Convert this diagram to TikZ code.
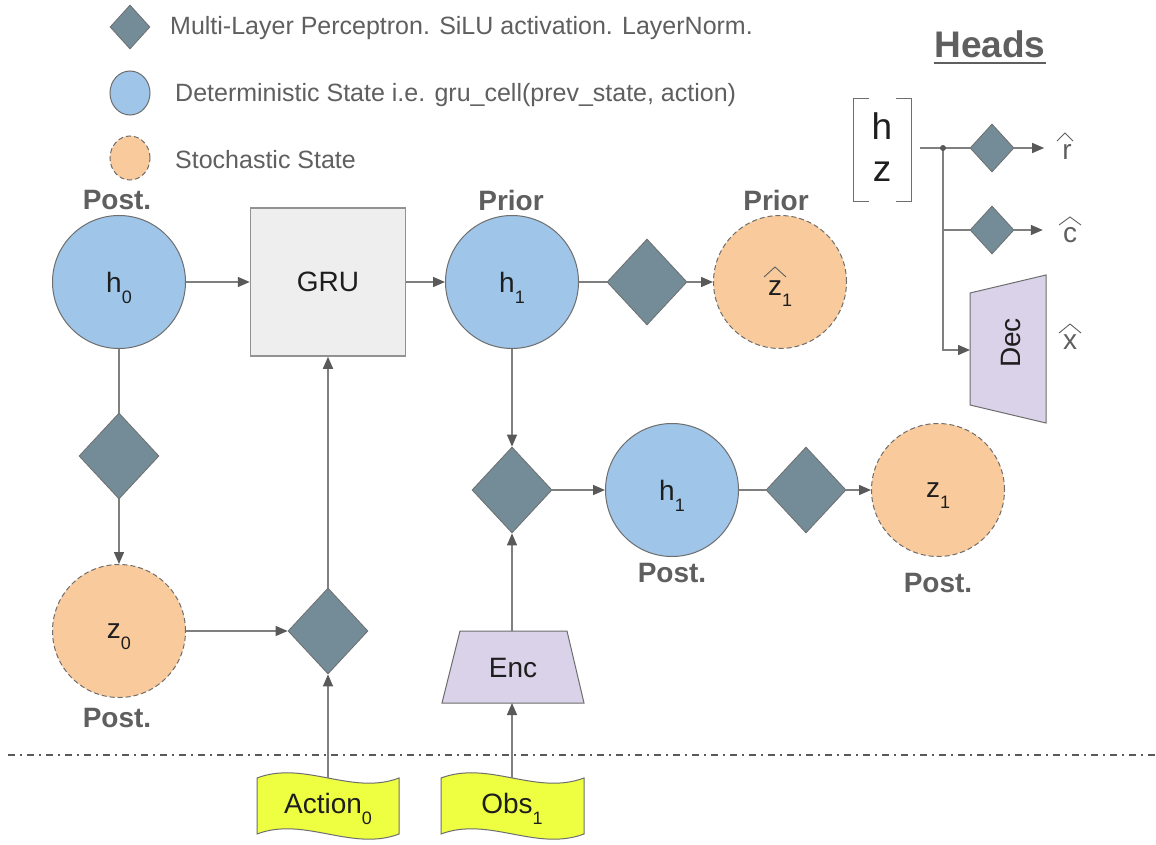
\documentclass[tikz,border=0pt]{standalone}
\usepackage{fontspec}
\setmainfont{Liberation Sans}
\usetikzlibrary{shapes.geometric,arrows.meta,calc}
\definecolor{bluefill}{HTML}{9FC5E8}
\definecolor{orangefill}{HTML}{F9CB9C}
\definecolor{mlpfill}{HTML}{738C98}
\definecolor{grufill}{HTML}{EEEEEE}
\definecolor{purplefill}{HTML}{D9D2E9}
\definecolor{flagfill}{HTML}{EEFF41}
\definecolor{bordergray}{HTML}{6E6E6E}
\definecolor{linegray}{HTML}{7F7F7F}
\definecolor{arrowgray}{HTML}{595959}
\definecolor{labelgray}{HTML}{5F5F5F}
\definecolor{textdark}{HTML}{1E1E1E}
\newcommand\fsz[1]{\fontsize{#1}{#1}\selectfont}
\newcommand\sbs[1]{\raisebox{-11pt}[0pt][0pt]{\fsz{18}#1}}
\begin{document}
\begin{tikzpicture}[x=1pt,y=-1pt,
  detstate/.style={circle,draw=bordergray,fill=bluefill,line width=1pt,minimum size=133pt,inner sep=0pt,font=\fsz{28},text=textdark},
  stostate/.style={detstate,fill=orangefill,dash pattern=on 5pt off 3pt},
  mlp/.style={diamond,draw=bordergray,fill=mlpfill,line width=0.8pt,minimum width=80pt,minimum height=86pt,inner sep=0pt},
  smallmlp/.style={mlp,minimum width=44pt,minimum height=48pt},
  lbl/.style={font=\bfseries\fsz{28},text=labelgray,inner sep=0pt},
  legtext/.style={anchor=west,font=\fsz{25},text=labelgray,inner sep=0pt},
  conn/.style={line width=1.5pt,draw=linegray},
  arr/.style={conn,-{Triangle[length=12pt,width=10pt,color=arrowgray]}},
  txt/.style={font=\fsz{28},text=textdark,inner sep=0pt},
  hatl/.style={font=\fsz{28},text=labelgray,inner xsep=18pt,inner ysep=0pt},
  caret/.style={line width=0.9pt,draw=labelgray,line join=miter},
  flagbox/.style={draw=bordergray,fill=flagfill,line width=1pt},
  trap/.style={draw=bordergray,fill=purplefill,line width=1pt},
]
\useasboundingbox[fill=white] (0,0) rectangle (1156,845);

% legend
\node[smallmlp,minimum width=40pt,minimum height=44pt] (lgm) at (130,27) {};
\node[legtext] (lgmt) at (170,28) {Multi-Layer Perceptron. SiLU activation. LayerNorm.};
\node[ellipse,draw=bordergray,fill=bluefill,line width=1pt,minimum width=40pt,minimum height=44pt,inner sep=0pt] (lgd) at (130,93) {};
\node[legtext] (lgdt) at (175,95) {Deterministic State i.e. gru\_cell(prev\_state, action)};
\node[ellipse,draw=bordergray,fill=orangefill,line width=1pt,dash pattern=on 5pt off 3pt,minimum width=40pt,minimum height=44pt,inner sep=0pt] (lgs) at (130,158) {};
\node[legtext] (lgst) at (175,160) {Stochastic State};

% main graph
\node[lbl] (lpost0) at (117,200) {Post.};
\node[detstate] (h0) at (119,282) {h\sbs{0}};
\node[draw=bordergray!75,fill=grufill,line width=1.5pt,minimum width=155pt,minimum height=148pt,inner sep=0pt,font=\fsz{28},text=textdark] (gru) at (328,282) {GRU};
\node[lbl] (lprior1) at (511,200) {Prior};
\node[detstate] (h1p) at (512,282) {h\sbs{1}};
\node[mlp] (mp) at (647,282) {};
\node[lbl] (lprior2) at (776,200) {Prior};
\node[stostate] (z1p) at (780,282) {\raisebox{-13pt}[0pt][0pt]{z\sbs{1}}};
\draw[caret] ($(z1p)+(-16,-5)$) -- ($(z1p)+(-5,-15)$) -- ($(z1p)+(6,-5)$);

\node[mlp] (m0) at (119,456) {};
\node[stostate] (z0) at (119,631) {z\sbs{0}};
\node[lbl] (lpost1) at (117,718) {Post.};
\node[mlp] (ma) at (328,631) {};

\node[mlp] (mq) at (512,490) {};
\node[detstate] (h1q) at (672,490) {h\sbs{1}};
\node[lbl] (lpost2) at (672,573) {Post.};
\node[mlp] (mz) at (806,490) {};
\node[stostate] (z1q) at (938,490) {z\sbs{1}};
\node[lbl] (lpost3) at (938,583) {Post.};

% encoder
\draw[trap] (460,631) -- (567,631) -- (584,703) -- (442,703) -- cycle;
\node[txt] (enc) at (513,668) {Enc};
\coordinate (encT) at (512,631);
\coordinate (encB) at (512,703);

% flags
\draw[flagbox] (257,778) .. controls (304,760) and (352,796) .. (399,778) -- (399,834) .. controls (352,852) and (304,816) .. (257,834) -- cycle;
\node[txt] (act) at (328,803) {Action\sbs{0}};
\coordinate (actT) at (328,778);
\draw[flagbox] (441,778) .. controls (489,760) and (536,796) .. (584,778) -- (584,834) .. controls (536,852) and (489,816) .. (441,834) -- cycle;
\node[txt] (obs) at (512,803) {Obs\sbs{1}};
\coordinate (obsT) at (512,778);

% dash-dot separator
\coordinate (dl) at (8,755);
\coordinate (dr) at (1156,755);
\draw[line width=1.2pt,arrowgray,dash pattern=on 7pt off 5pt on 2pt off 5pt] (dl) -- (dr);

% connectors
\draw[arr] (h0) -- (gru);
\draw[arr] (gru) -- (h1p);
\draw[conn] (h1p) -- (mp);
\draw[arr] (mp) -- (z1p);
\draw[conn] (h0) -- (m0);
\draw[arr] (m0) -- (z0);
\draw[arr] (z0) -- (ma);
\draw[arr] (ma) -- (gru);
\draw[arr] (actT) -- (ma);
\draw[arr] (h1p) -- (mq);
\draw[arr] (encT) -- (mq);
\draw[arr] (obsT) -- (encB);
\draw[arr] (mq) -- (h1q);
\draw[conn] (h1q) -- (mz);
\draw[arr] (mz) -- (z1q);

% heads
\node[font=\bfseries\fsz{37},text=labelgray,inner sep=0pt] (heads) at (990,44) {Heads};
\draw[line width=2.5pt,labelgray] ($(heads.base west)+(0,6)$) -- ($(heads.base east)+(0,6)$);
\draw[line width=1pt,bordergray] (869,99) -- (853,99) -- (853,202) -- (869,202);
\draw[line width=1pt,bordergray] (896,99) -- (911,99) -- (911,202) -- (896,202);
\node[font=\fsz{37},text=textdark,inner sep=0pt] (hh) at (882,126) {h};
\node[font=\fsz{37},text=textdark,inner sep=0pt] (hz) at (882,172) {z};
\coordinate (brE) at (920,148);
\coordinate (jn) at (943,148);
\node[smallmlp] (hd1) at (992,148) {};
\node[smallmlp] (hd2) at (992,230) {};
\node[hatl] (rhat) at (1067,152) {r};
\draw[caret] (1057,141) -- (1065,133) -- (1073,141);
\node[hatl,inner xsep=20pt] (chat) at (1070,235) {c};
\draw[caret] (1059,225) -- (1070,217) -- (1081,225);
\node[hatl,inner xsep=0pt] (xhat) at (1070,342) {x};
\draw[caret] (1059,333) -- (1070,324) -- (1081,333);
\draw[trap] (970,293) -- (1046,275) -- (1046,423) -- (970,405) -- cycle;
\node[txt,rotate=90] (dec) at (1011,343) {Dec};
\coordinate (decW) at (970,350);
\draw[conn] (brE) -- (hd1);
\draw[arr] (hd1) -- (hd1 -| rhat.west);
\draw[conn] (jn) |- (hd2);
\draw[arr] (hd2) -- (hd2 -| chat.west);
\draw[arr] (jn) |- (decW);
\fill[arrowgray] (jn) circle (3pt);
\end{tikzpicture}
\end{document}
